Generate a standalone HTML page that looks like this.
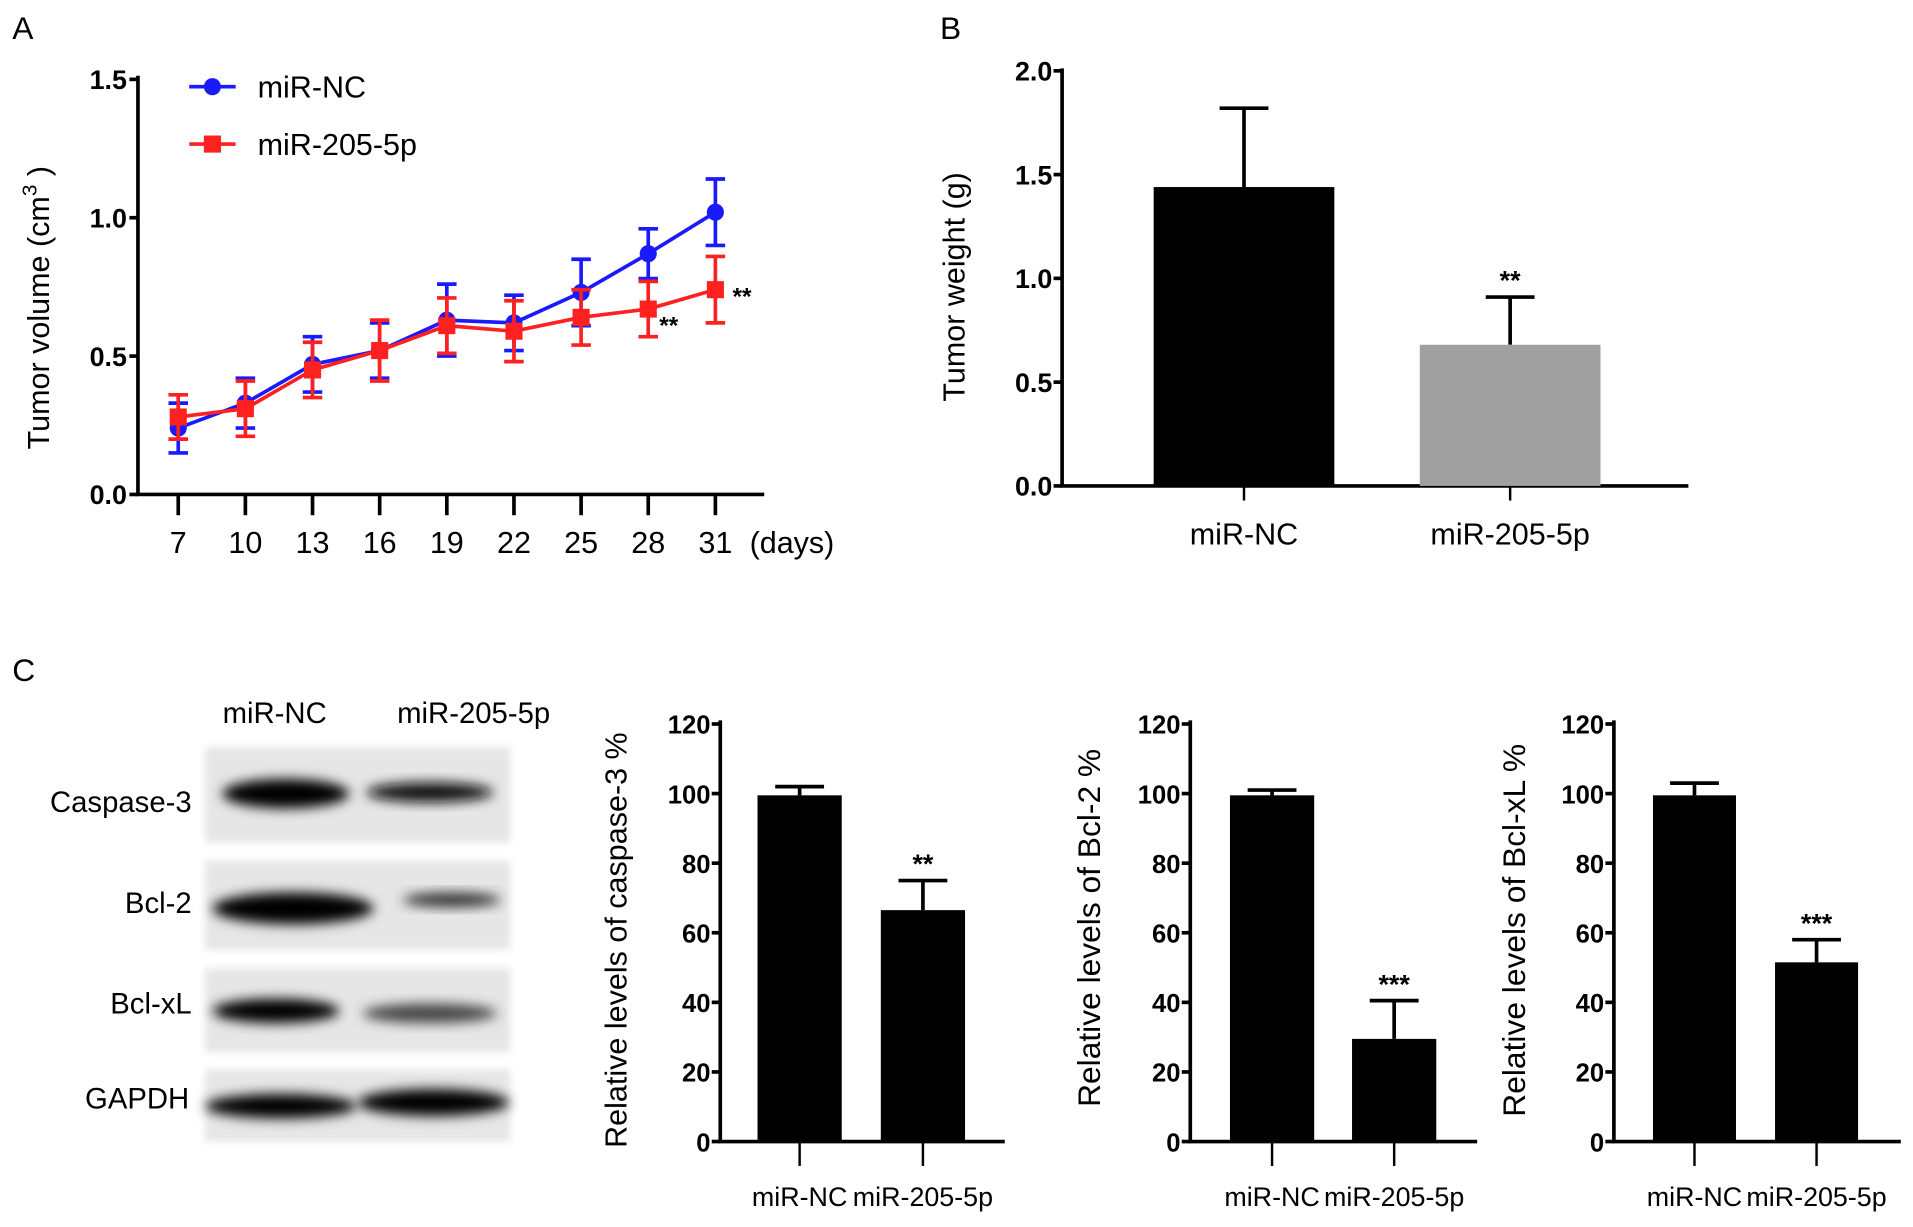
<!DOCTYPE html>
<html><head><meta charset="utf-8"><style>
html,body{margin:0;padding:0;background:#fff}
svg{display:block}
text{font-family:"Liberation Sans",sans-serif}
</style></head><body>
<svg id="fig" width="1913" height="1227" viewBox="0 0 1567 1005" preserveAspectRatio="none" xmlns="http://www.w3.org/2000/svg">
<defs>
<filter id="blur" x="-20%" y="-50%" width="140%" height="200%"><feGaussianBlur stdDeviation="5"/></filter>
<filter id="blur2"><feGaussianBlur stdDeviation="3"/></filter>
</defs>
<text x="10" y="32" font-size="26">A</text>
<text x="770" y="32" font-size="26">B</text>
<text x="10" y="558" font-size="26">C</text>
<g id="gA"></g>
<g id="gB"></g>
<g id="blot">
 <text x="225" y="592" font-size="24" text-anchor="middle">miR-NC</text>
 <text x="388" y="592" font-size="24" text-anchor="middle">miR-205-5p</text>
 <g>
  <rect x="168" y="612" width="250" height="78" fill="#e6e6e6" filter="url(#blur2)"/>
  <ellipse cx="234" cy="650" rx="52" ry="12" fill="#000" filter="url(#blur)"/>
  <ellipse cx="352" cy="649" rx="52" ry="8" fill="#111" filter="url(#blur)"/>
  <text x="157" y="665" font-size="24" text-anchor="end">Caspase-3</text>
 </g>
 <g>
  <rect x="168" y="705" width="250" height="73" fill="#e6e6e6" filter="url(#blur2)"/>
  <ellipse cx="240" cy="744" rx="66" ry="13" fill="#000" filter="url(#blur)"/>
  <ellipse cx="370" cy="737" rx="40" ry="6" fill="#333" filter="url(#blur)"/>
  <text x="157" y="748" font-size="24" text-anchor="end">Bcl-2</text>
 </g>
 <g>
  <rect x="168" y="793" width="250" height="69" fill="#e6e6e6" filter="url(#blur2)"/>
  <ellipse cx="226" cy="828" rx="52" ry="10" fill="#000" filter="url(#blur)"/>
  <ellipse cx="352" cy="830" rx="55" ry="8" fill="#444" filter="url(#blur)"/>
  <text x="157" y="830" font-size="24" text-anchor="end">Bcl-xL</text>
 </g>
 <g>
  <rect x="168" y="876" width="250" height="59" fill="#e6e6e6" filter="url(#blur2)"/>
  <ellipse cx="230" cy="906" rx="62" ry="10" fill="#000" filter="url(#blur)"/>
  <ellipse cx="355" cy="903" rx="62" ry="11" fill="#000" filter="url(#blur)"/>
  <text x="155" y="908" font-size="24" text-anchor="end">GAPDH</text>
 </g>
</g>
<g id="gC1"></g>
<g id="gC2"></g>
<g id="gC3"></g>
</svg>
<script>
const days = [7,10,13,16,19,22,25,28,31];
const ncVolume = [0.24,0.33,0.47,0.52,0.63,0.62,0.73,0.87,1.02];
const ncVolumeErr = [0.09,0.09,0.10,0.10,0.13,0.10,0.12,0.09,0.12];
const mirVolume = [0.28,0.31,0.45,0.52,0.61,0.59,0.64,0.67,0.74];
const mirVolumeErr = [0.08,0.10,0.10,0.11,0.10,0.11,0.10,0.10,0.12];
const volumeTicks = ["0.0","0.5","1.0","1.5"];
const groups = ["miR-NC","miR-205-5p"];
const weightValues = [1.44,0.68];
const weightErr = [0.38,0.23];
const weightTicks = ["0.0","0.5","1.0","1.5","2.0"];
const caspaseValues = [99.5,66.5];
const caspaseErr = [2.5,8.5];
const bcl2Values = [99.5,29.5];
const bcl2Err = [1.5,11];
const bclxlValues = [99.5,51.5];
const bclxlErr = [3.5,6.5];
const relTicks = ["0","20","40","60","80","100","120"];

const NS="http://www.w3.org/2000/svg";
function mk(parent,tag,attrs,text){const e=document.createElementNS(NS,tag);for(const k in attrs)e.setAttribute(k,attrs[k]);if(text!==undefined)e.textContent=text;parent.appendChild(e);return e;}

// Panel A
(function(){
 const g=document.getElementById('gA');
 const y=v=>405-v*(340/1.5);
 const x=d=>146+(d-7)*(440/24);
 const ax=mk(g,'path',{d:'M113,62 V405 H626',stroke:'#000','stroke-width':3,fill:'none'});
 
 
 volumeTicks.forEach(t=>{const v=parseFloat(t);
  mk(g,'line',{x1:106,x2:113,y1:y(v),y2:y(v),stroke:'#000','stroke-width':3});
  const tl=mk(g,'text',{x:104,y:y(v)+8,'font-size':22,'font-weight':'bold','text-anchor':'end'},t);
  
  
 });
 days.forEach(d=>{
  mk(g,'line',{x1:x(d),x2:x(d),y1:405,y2:422,stroke:'#000','stroke-width':3});
  const tl=mk(g,'text',{x:x(d),y:453,'font-size':25,'text-anchor':'middle'},String(d));
  
  
 });
 const dl=mk(g,'text',{x:614,y:453,'font-size':25},'(days)');
 
 
 const yl=mk(g,'text',{transform:'translate(40,252) rotate(-90)','font-size':25,'text-anchor':'middle'});
 
 
 yl.innerHTML='Tumor volume (cm<tspan dy="-10" font-size="17">3</tspan><tspan dy="10"> )</tspan>';
 function series(vals,errs,color,name,square){
  const s=mk(g,'g',{});
  
  
  vals.forEach((v,i)=>{const cx=x(days[i]);
   mk(s,'path',{d:`M${cx},${y(v-errs[i])} V${y(v+errs[i])} M${cx-8},${y(v-errs[i])} H${cx+8} M${cx-8},${y(v+errs[i])} H${cx+8}`,stroke:color,'stroke-width':3,fill:'none'});
  });
  mk(s,'polyline',{points:vals.map((v,i)=>x(days[i])+','+y(v)).join(' '),stroke:color,'stroke-width':3,fill:'none'});
  vals.forEach((v,i)=>{const cx=x(days[i]);
   const m=square?mk(s,'rect',{x:cx-7,y:y(v)-7,width:14,height:14,fill:color}):mk(s,'circle',{cx:cx,cy:y(v),r:7,fill:color});
   
   
  });
 }
 series(ncVolume,ncVolumeErr,'#1a1aff','series-mir-nc',false);
 series(mirVolume,mirVolumeErr,'#ff2020','series-mir-205',true);
 const s1=mk(g,'text',{x:x(days[7])+9,y:y(mirVolume[7])+20,'font-size':20,'font-weight':'bold'},'**');
 
 
 const s2=mk(g,'text',{x:x(days[8])+14,y:y(mirVolume[8])+12,'font-size':20,'font-weight':'bold'},'**');
 
 
 const l1=mk(g,'g',{});
 mk(l1,'line',{x1:155,x2:193,y1:71,y2:71,stroke:'#1a1aff','stroke-width':3});
 mk(l1,'circle',{cx:174,cy:71,r:7,fill:'#1a1aff'});
 mk(l1,'text',{x:211,y:80,'font-size':25},'miR-NC');
 const l2=mk(g,'g',{});
 mk(l2,'line',{x1:155,x2:193,y1:118,y2:118,stroke:'#ff2020','stroke-width':3});
 mk(l2,'rect',{x:167,y:111,width:14,height:14,fill:'#ff2020'});
 mk(l2,'text',{x:211,y:127,'font-size':25},'miR-205-5p');
})();

function barChart(gid,o){
 const g=document.getElementById(gid);
 const y=v=>o.y0-v*o.scale;
 const ax=mk(g,'path',{d:`M${o.ax},${o.yTop} V${o.y0} H${o.xEnd}`,stroke:'#000','stroke-width':3,fill:'none'});
 
 
 o.ticks.forEach(t=>{const v=parseFloat(t);
  mk(g,'line',{x1:o.ax-7,x2:o.ax,y1:y(v),y2:y(v),stroke:'#000','stroke-width':3});
  const tl=mk(g,'text',{x:o.ax-8,y:y(v)+8,'font-size':o.tickSize,'font-weight':'bold','text-anchor':'end'},t);
  
  
 });
 o.values.forEach((v,i)=>{
  const cx=o.centers[i];
  mk(g,'path',{d:`M${cx},${y(v)} V${y(v+o.err[i])} M${cx-20},${y(v+o.err[i])} H${cx+20}`,stroke:'#000','stroke-width':3,fill:'none'});
  const b=mk(g,'rect',{x:cx-o.bw/2,y:y(v),width:o.bw,height:o.y0-y(v),fill:o.colors[i]});
  
  
  mk(g,'line',{x1:cx,x2:cx,y1:o.y0,y2:o.y0+o.tickLen,stroke:'#000','stroke-width':2});
  const tl=mk(g,'text',{x:cx,y:o.labelY,'font-size':o.labelSize,'text-anchor':'middle'},groups[i]);
  
  
 });
 const st=mk(g,'text',{x:o.centers[1],y:y(o.values[1]+o.err[1])-6,'font-size':22,'font-weight':'bold','text-anchor':'middle'},o.star);
 
 
 const yl=mk(g,'text',{transform:`translate(${o.titleX},${o.titleY}) rotate(-90)`,'font-size':o.titleSize,'text-anchor':'middle'},o.title);
 
 
}
barChart('gB',{ax:870,y0:398,yTop:56,xEnd:1383,scale:170,ticks:weightTicks,tickSize:22,values:weightValues,err:weightErr,centers:[1019,1237],bw:148,colors:['#000','#a0a0a0'],tickLen:12,labelY:446,labelSize:25,star:'**',title:'Tumor weight (g)',titleX:790,titleY:235,titleSize:25});
barChart('gC1',{ax:590,y0:935,yTop:590,xEnd:823,scale:342/120,ticks:relTicks,tickSize:21,values:caspaseValues,err:caspaseErr,centers:[655,756],bw:69,colors:['#000','#000'],tickLen:20,labelY:988,labelSize:22,star:'**',title:'Relative levels of  caspase-3 %',titleX:513,titleY:770,titleSize:25});
barChart('gC2',{ax:975,y0:935,yTop:590,xEnd:1210,scale:342/120,ticks:relTicks,tickSize:21,values:bcl2Values,err:bcl2Err,centers:[1042,1142],bw:69,colors:['#000','#000'],tickLen:20,labelY:988,labelSize:22,star:'***',title:'Relative levels of Bcl-2 %',titleX:901,titleY:760,titleSize:26},);
barChart('gC3',{ax:1322,y0:935,yTop:590,xEnd:1557,scale:342/120,ticks:relTicks,tickSize:21,values:bclxlValues,err:bclxlErr,centers:[1388,1488],bw:68,colors:['#000','#000'],tickLen:20,labelY:988,labelSize:22,star:'***',title:'Relative levels of Bcl-xL %',titleX:1249,titleY:762,titleSize:26});
</script>
</body></html>
